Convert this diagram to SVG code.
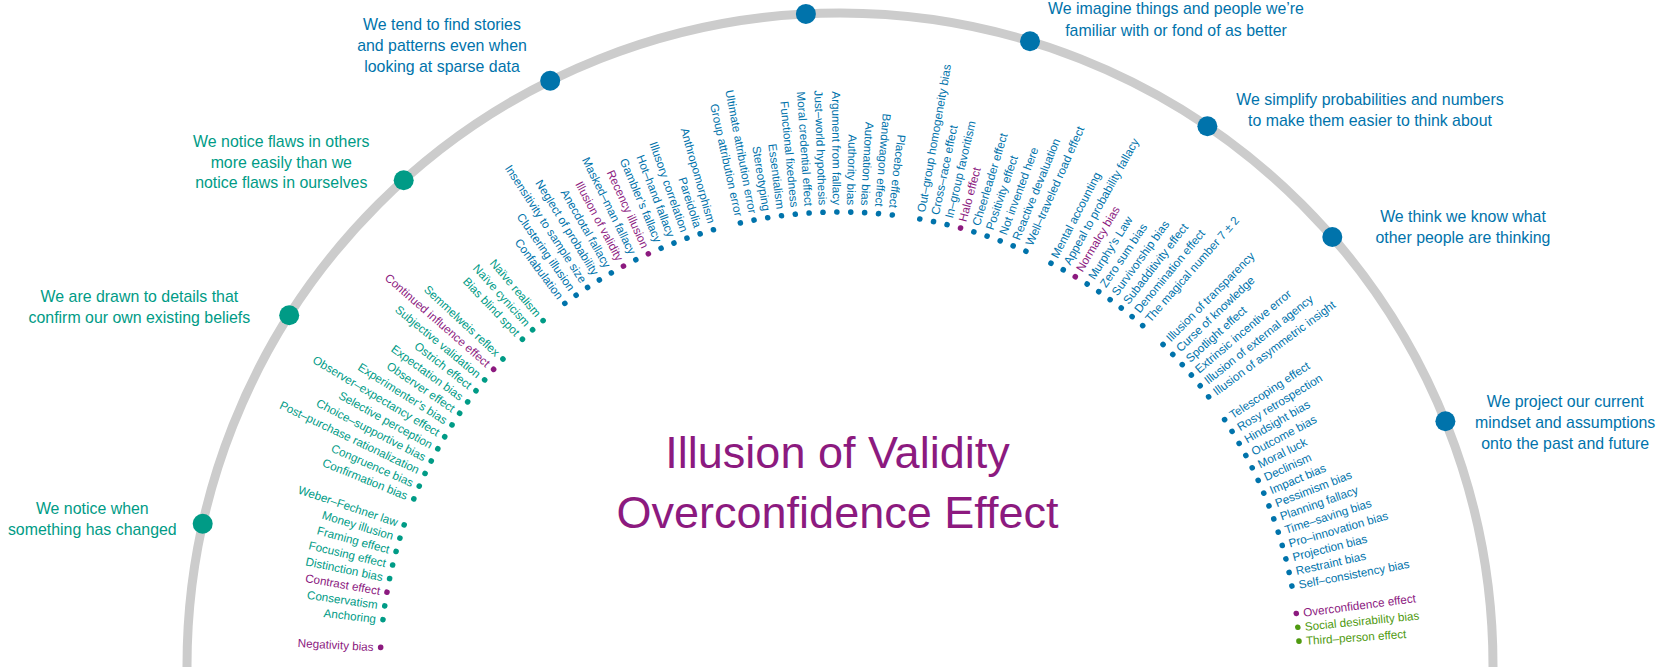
<svg xmlns="http://www.w3.org/2000/svg" width="1674" height="667" viewBox="0 0 1674 667">
<style>
text{font-family:"Liberation Sans",Arial,Helvetica,sans-serif}
.b text{font-size:11.7px}
.L text{text-anchor:end}
.cat text{font-size:15.9px;text-anchor:middle}
.t{fill:#009b86}
.u{fill:#0073ab}
.p{fill:#8c1a7f}
.g{fill:#4f9a10}
.title{font-size:45px;fill:#8c1a7f;text-anchor:middle}
</style>
<rect width="1674" height="667" fill="#ffffff"/>
<g id="connectors">
<circle id="ring" cx="840" cy="666" r="653" fill="none" stroke="#cccccc" stroke-width="9"/>
</g>
<g id="categories">
<g id="cat-changed" class="cat t"><circle cx="202.7" cy="523.7" r="10"/><text x="92.3" y="514.3">We notice when</text><text x="92.3" y="535">something has changed</text></g>
<g id="cat-confirm" class="cat t"><circle cx="289.2" cy="315.2" r="10"/><text x="139.4" y="302">We are drawn to details that</text><text x="139.4" y="322.7">confirm our own existing beliefs</text></g>
<g id="cat-flaws" class="cat t"><circle cx="403.7" cy="180.2" r="10"/><text x="281.3" y="147.3">We notice flaws in others</text><text x="281.3" y="167.7">more easily than we</text><text x="281.3" y="188.3">notice flaws in ourselves</text></g>
<g id="cat-stories" class="cat u"><circle cx="550.2" cy="80.8" r="10"/><text x="442" y="30">We tend to find stories</text><text x="442" y="51">and patterns even when</text><text x="442" y="71.7">looking at sparse data</text></g>
<g id="cat-top" class="cat u"><circle cx="805.9" cy="13.9" r="10"/></g>
<g id="cat-familiar" class="cat u"><circle cx="1030" cy="41.3" r="10"/><text x="1176" y="14">We imagine things and people we’re</text><text x="1176" y="35.5">familiar with or fond of as better</text></g>
<g id="cat-simplify" class="cat u"><circle cx="1207.4" cy="126.2" r="10"/><text x="1370" y="104.5">We simplify probabilities and numbers</text><text x="1370" y="126">to make them easier to think about</text></g>
<g id="cat-think" class="cat u"><circle cx="1332.3" cy="237" r="10"/><text x="1463" y="222">We think we know what</text><text x="1463" y="243.3">other people are thinking</text></g>
<g id="cat-project" class="cat u"><circle cx="1445.4" cy="421.2" r="10"/><text x="1565.2" y="407.3">We project our current</text><text x="1565.2" y="428.3">mindset and assumptions</text><text x="1565.2" y="449.3">onto the past and future</text></g>
</g>
<g id="biases" transform="translate(840 672)">
<g id="negativity-bias" class="b L p" transform="rotate(3.07)"><circle cx="-460" r="2.8"/><text x="-467" dy=".35em">Negativity bias</text></g>
<g id="anchoring" class="b L t" transform="rotate(6.53)"><circle cx="-460" r="2.8"/><text x="-467" dy=".35em">Anchoring</text></g>
<g id="conservatism" class="b L t" transform="rotate(8.26)"><circle cx="-460" r="2.8"/><text x="-467" dy=".35em">Conservatism</text></g>
<g id="contrast-effect" class="b L p" transform="rotate(9.99)"><circle cx="-460" r="2.8"/><text x="-467" dy=".35em">Contrast effect</text></g>
<g id="distinction-bias" class="b L t" transform="rotate(11.72)"><circle cx="-460" r="2.8"/><text x="-467" dy=".35em">Distinction bias</text></g>
<g id="focusing-effect" class="b L t" transform="rotate(13.45)"><circle cx="-460" r="2.8"/><text x="-467" dy=".35em">Focusing effect</text></g>
<g id="framing-effect" class="b L t" transform="rotate(15.19)"><circle cx="-460" r="2.8"/><text x="-467" dy=".35em">Framing effect</text></g>
<g id="money-illusion" class="b L t" transform="rotate(16.92)"><circle cx="-460" r="2.8"/><text x="-467" dy=".35em">Money illusion</text></g>
<g id="weber-fechner-law" class="b L t" transform="rotate(18.65)"><circle cx="-460" r="2.8"/><text x="-467" dy=".35em">Weber–Fechner law</text></g>
<g id="confirmation-bias" class="b L t" transform="rotate(22.11)"><circle cx="-460" r="2.8"/><text x="-467" dy=".35em">Confirmation bias</text></g>
<g id="congruence-bias" class="b L t" transform="rotate(23.84)"><circle cx="-460" r="2.8"/><text x="-467" dy=".35em">Congruence bias</text></g>
<g id="post-purchase-rationalization" class="b L t" transform="rotate(25.57)"><circle cx="-460" r="2.8"/><text x="-467" dy=".35em">Post–purchase rationalization</text></g>
<g id="choice-supportive-bias" class="b L t" transform="rotate(27.30)"><circle cx="-460" r="2.8"/><text x="-467" dy=".35em">Choice–supportive bias</text></g>
<g id="selective-perception" class="b L t" transform="rotate(29.03)"><circle cx="-460" r="2.8"/><text x="-467" dy=".35em">Selective perception</text></g>
<g id="observer-expectancy-effect" class="b L t" transform="rotate(30.76)"><circle cx="-460" r="2.8"/><text x="-467" dy=".35em">Observer–expectancy effect</text></g>
<g id="experimenters-bias" class="b L t" transform="rotate(32.49)"><circle cx="-460" r="2.8"/><text x="-467" dy=".35em">Experimenter’s bias</text></g>
<g id="observer-effect" class="b L t" transform="rotate(34.22)"><circle cx="-460" r="2.8"/><text x="-467" dy=".35em">Observer effect</text></g>
<g id="expectation-bias" class="b L t" transform="rotate(35.96)"><circle cx="-460" r="2.8"/><text x="-467" dy=".35em">Expectation bias</text></g>
<g id="ostrich-effect" class="b L t" transform="rotate(37.69)"><circle cx="-460" r="2.8"/><text x="-467" dy=".35em">Ostrich effect</text></g>
<g id="subjective-validation" class="b L t" transform="rotate(39.42)"><circle cx="-460" r="2.8"/><text x="-467" dy=".35em">Subjective validation</text></g>
<g id="continued-influence-effect" class="b L p" transform="rotate(41.15)"><circle cx="-460" r="2.8"/><text x="-467" dy=".35em">Continued influence effect</text></g>
<g id="semmelweis-reflex" class="b L t" transform="rotate(42.88)"><circle cx="-460" r="2.8"/><text x="-467" dy=".35em">Semmelweis reflex</text></g>
<g id="bias-blind-spot" class="b L t" transform="rotate(46.34)"><circle cx="-460" r="2.8"/><text x="-467" dy=".35em">Bias blind spot</text></g>
<g id="naive-cynicism" class="b L t" transform="rotate(48.07)"><circle cx="-460" r="2.8"/><text x="-467" dy=".35em">Naïve cynicism</text></g>
<g id="naive-realism" class="b L t" transform="rotate(49.80)"><circle cx="-460" r="2.8"/><text x="-467" dy=".35em">Naïve realism</text></g>
<g id="confabulation" class="b L u" transform="rotate(53.26)"><circle cx="-460" r="2.8"/><text x="-467" dy=".35em">Confabulation</text></g>
<g id="clustering-illusion" class="b L u" transform="rotate(54.99)"><circle cx="-460" r="2.8"/><text x="-467" dy=".35em">Clustering illusion</text></g>
<g id="insensitivity-to-sample-size" class="b L u" transform="rotate(56.72)"><circle cx="-460" r="2.8"/><text x="-467" dy=".35em">Insensitivity to sample size</text></g>
<g id="neglect-of-probability" class="b L u" transform="rotate(58.46)"><circle cx="-460" r="2.8"/><text x="-467" dy=".35em">Neglect of probability</text></g>
<g id="anecdotal-fallacy" class="b L u" transform="rotate(60.19)"><circle cx="-460" r="2.8"/><text x="-467" dy=".35em">Anecdotal fallacy</text></g>
<g id="illusion-of-validity" class="b L p" transform="rotate(61.92)"><circle cx="-460" r="2.8"/><text x="-467" dy=".35em">Illusion of validity</text></g>
<g id="masked-man-fallacy" class="b L u" transform="rotate(63.65)"><circle cx="-460" r="2.8"/><text x="-467" dy=".35em">Masked–man fallacy</text></g>
<g id="recency-illusion" class="b L p" transform="rotate(65.38)"><circle cx="-460" r="2.8"/><text x="-467" dy=".35em">Recency illusion</text></g>
<g id="gamblers-fallacy" class="b L u" transform="rotate(67.11)"><circle cx="-460" r="2.8"/><text x="-467" dy=".35em">Gambler’s fallacy</text></g>
<g id="hot-hand-fallacy" class="b L u" transform="rotate(68.84)"><circle cx="-460" r="2.8"/><text x="-467" dy=".35em">Hot–hand fallacy</text></g>
<g id="illusory-correlation" class="b L u" transform="rotate(70.57)"><circle cx="-460" r="2.8"/><text x="-467" dy=".35em">Illusory correlation</text></g>
<g id="pareidolia" class="b L u" transform="rotate(72.30)"><circle cx="-460" r="2.8"/><text x="-467" dy=".35em">Pareidolia</text></g>
<g id="anthropomorphism" class="b L u" transform="rotate(74.03)"><circle cx="-460" r="2.8"/><text x="-467" dy=".35em">Anthropomorphism</text></g>
<g id="group-attribution-error" class="b L u" transform="rotate(77.49)"><circle cx="-460" r="2.8"/><text x="-467" dy=".35em">Group attribution error</text></g>
<g id="ultimate-attribution-error" class="b L u" transform="rotate(79.23)"><circle cx="-460" r="2.8"/><text x="-467" dy=".35em">Ultimate attribution error</text></g>
<g id="stereotyping" class="b L u" transform="rotate(80.96)"><circle cx="-460" r="2.8"/><text x="-467" dy=".35em">Stereotyping</text></g>
<g id="essentialism" class="b L u" transform="rotate(82.69)"><circle cx="-460" r="2.8"/><text x="-467" dy=".35em">Essentialism</text></g>
<g id="functional-fixedness" class="b L u" transform="rotate(84.42)"><circle cx="-460" r="2.8"/><text x="-467" dy=".35em">Functional fixedness</text></g>
<g id="moral-credential-effect" class="b L u" transform="rotate(86.15)"><circle cx="-460" r="2.8"/><text x="-467" dy=".35em">Moral credential effect</text></g>
<g id="just-world-hypothesis" class="b L u" transform="rotate(87.88)"><circle cx="-460" r="2.8"/><text x="-467" dy=".35em">Just–world hypothesis</text></g>
<g id="argument-from-fallacy" class="b L u" transform="rotate(89.61)"><circle cx="-460" r="2.8"/><text x="-467" dy=".35em">Argument from fallacy</text></g>
<g id="authority-bias" class="b L u" transform="rotate(91.34)"><circle cx="-460" r="2.8"/><text x="-467" dy=".35em">Authority bias</text></g>
<g id="automation-bias" class="b L u" transform="rotate(93.07)"><circle cx="-460" r="2.8"/><text x="-467" dy=".35em">Automation bias</text></g>
<g id="bandwagon-effect" class="b L u" transform="rotate(94.80)"><circle cx="-460" r="2.8"/><text x="-467" dy=".35em">Bandwagon effect</text></g>
<g id="placebo-effect" class="b L u" transform="rotate(96.53)"><circle cx="-460" r="2.8"/><text x="-467" dy=".35em">Placebo effect</text></g>
<g id="out-group-homogeneity-bias" class="b u" transform="rotate(-80.01)"><circle cx="460" r="2.8"/><text x="467" dy=".35em">Out–group homogeneity bias</text></g>
<g id="cross-race-effect" class="b u" transform="rotate(-78.27)"><circle cx="460" r="2.8"/><text x="467" dy=".35em">Cross–race effect</text></g>
<g id="in-group-favoritism" class="b u" transform="rotate(-76.54)"><circle cx="460" r="2.8"/><text x="467" dy=".35em">In–group favoritism</text></g>
<g id="halo-effect" class="b p" transform="rotate(-74.81)"><circle cx="460" r="2.8"/><text x="467" dy=".35em">Halo effect</text></g>
<g id="cheerleader-effect" class="b u" transform="rotate(-73.08)"><circle cx="460" r="2.8"/><text x="467" dy=".35em">Cheerleader effect</text></g>
<g id="positivity-effect" class="b u" transform="rotate(-71.35)"><circle cx="460" r="2.8"/><text x="467" dy=".35em">Positivity effect</text></g>
<g id="not-invented-here" class="b u" transform="rotate(-69.62)"><circle cx="460" r="2.8"/><text x="467" dy=".35em">Not invented here</text></g>
<g id="reactive-devaluation" class="b u" transform="rotate(-67.89)"><circle cx="460" r="2.8"/><text x="467" dy=".35em">Reactive devaluation</text></g>
<g id="well-traveled-road-effect" class="b u" transform="rotate(-66.16)"><circle cx="460" r="2.8"/><text x="467" dy=".35em">Well–traveled road effect</text></g>
<g id="mental-accounting" class="b u" transform="rotate(-62.70)"><circle cx="460" r="2.8"/><text x="467" dy=".35em">Mental accounting</text></g>
<g id="appeal-to-probability-fallacy" class="b u" transform="rotate(-60.97)"><circle cx="460" r="2.8"/><text x="467" dy=".35em">Appeal to probability fallacy</text></g>
<g id="normalcy-bias" class="b p" transform="rotate(-59.24)"><circle cx="460" r="2.8"/><text x="467" dy=".35em">Normalcy bias</text></g>
<g id="murphys-law" class="b u" transform="rotate(-57.50)"><circle cx="460" r="2.8"/><text x="467" dy=".35em">Murphy’s Law</text></g>
<g id="zero-sum-bias" class="b u" transform="rotate(-55.77)"><circle cx="460" r="2.8"/><text x="467" dy=".35em">Zero sum bias</text></g>
<g id="survivorship-bias" class="b u" transform="rotate(-54.04)"><circle cx="460" r="2.8"/><text x="467" dy=".35em">Survivorship bias</text></g>
<g id="subadditivity-effect" class="b u" transform="rotate(-52.31)"><circle cx="460" r="2.8"/><text x="467" dy=".35em">Subadditivity effect</text></g>
<g id="denomination-effect" class="b u" transform="rotate(-50.58)"><circle cx="460" r="2.8"/><text x="467" dy=".35em">Denomination effect</text></g>
<g id="magical-number" class="b u" transform="rotate(-48.85)"><circle cx="460" r="2.8"/><text x="467" dy=".35em">The magical number 7 ± 2</text></g>
<g id="illusion-of-transparency" class="b u" transform="rotate(-45.39)"><circle cx="460" r="2.8"/><text x="467" dy=".35em">Illusion of transparency</text></g>
<g id="curse-of-knowledge" class="b u" transform="rotate(-43.66)"><circle cx="460" r="2.8"/><text x="467" dy=".35em">Curse of knowledge</text></g>
<g id="spotlight-effect" class="b u" transform="rotate(-41.93)"><circle cx="460" r="2.8"/><text x="467" dy=".35em">Spotlight effect</text></g>
<g id="extrinsic-incentive-error" class="b u" transform="rotate(-40.20)"><circle cx="460" r="2.8"/><text x="467" dy=".35em">Extrinsic incentive error</text></g>
<g id="illusion-of-external-agency" class="b u" transform="rotate(-38.47)"><circle cx="460" r="2.8"/><text x="467" dy=".35em">Illusion of external agency</text></g>
<g id="illusion-of-asymmetric-insight" class="b u" transform="rotate(-36.74)"><circle cx="460" r="2.8"/><text x="467" dy=".35em">Illusion of asymmetric insight</text></g>
<g id="telescoping-effect" class="b u" transform="rotate(-33.27)"><circle cx="460" r="2.8"/><text x="467" dy=".35em">Telescoping effect</text></g>
<g id="rosy-retrospection" class="b u" transform="rotate(-31.54)"><circle cx="460" r="2.8"/><text x="467" dy=".35em">Rosy retrospection</text></g>
<g id="hindsight-bias" class="b u" transform="rotate(-29.81)"><circle cx="460" r="2.8"/><text x="467" dy=".35em">Hindsight bias</text></g>
<g id="outcome-bias" class="b u" transform="rotate(-28.08)"><circle cx="460" r="2.8"/><text x="467" dy=".35em">Outcome bias</text></g>
<g id="moral-luck" class="b u" transform="rotate(-26.35)"><circle cx="460" r="2.8"/><text x="467" dy=".35em">Moral luck</text></g>
<g id="declinism" class="b u" transform="rotate(-24.62)"><circle cx="460" r="2.8"/><text x="467" dy=".35em">Declinism</text></g>
<g id="impact-bias" class="b u" transform="rotate(-22.89)"><circle cx="460" r="2.8"/><text x="467" dy=".35em">Impact bias</text></g>
<g id="pessimism-bias" class="b u" transform="rotate(-21.16)"><circle cx="460" r="2.8"/><text x="467" dy=".35em">Pessimism bias</text></g>
<g id="planning-fallacy" class="b u" transform="rotate(-19.43)"><circle cx="460" r="2.8"/><text x="467" dy=".35em">Planning fallacy</text></g>
<g id="time-saving-bias" class="b u" transform="rotate(-17.70)"><circle cx="460" r="2.8"/><text x="467" dy=".35em">Time–saving bias</text></g>
<g id="pro-innovation-bias" class="b u" transform="rotate(-15.97)"><circle cx="460" r="2.8"/><text x="467" dy=".35em">Pro–innovation bias</text></g>
<g id="projection-bias" class="b u" transform="rotate(-14.23)"><circle cx="460" r="2.8"/><text x="467" dy=".35em">Projection bias</text></g>
<g id="restraint-bias" class="b u" transform="rotate(-12.50)"><circle cx="460" r="2.8"/><text x="467" dy=".35em">Restraint bias</text></g>
<g id="self-consistency-bias" class="b u" transform="rotate(-10.77)"><circle cx="460" r="2.8"/><text x="467" dy=".35em">Self–consistency bias</text></g>
<g id="overconfidence-effect" class="b p" transform="rotate(-7.31)"><circle cx="460" r="2.8"/><text x="467" dy=".35em">Overconfidence effect</text></g>
<g id="social-desirability-bias" class="b g" transform="rotate(-5.58)"><circle cx="460" r="2.8"/><text x="467" dy=".35em">Social desirability bias</text></g>
<g id="third-person-effect" class="b g" transform="rotate(-3.85)"><circle cx="460" r="2.8"/><text x="467" dy=".35em">Third–person effect</text></g>
</g>
<g id="title">
<text class="title" x="837.5" y="468.3">Illusion of Validity</text>
<text class="title" x="837.5" y="528.3">Overconfidence Effect</text>
</g>
</svg>
